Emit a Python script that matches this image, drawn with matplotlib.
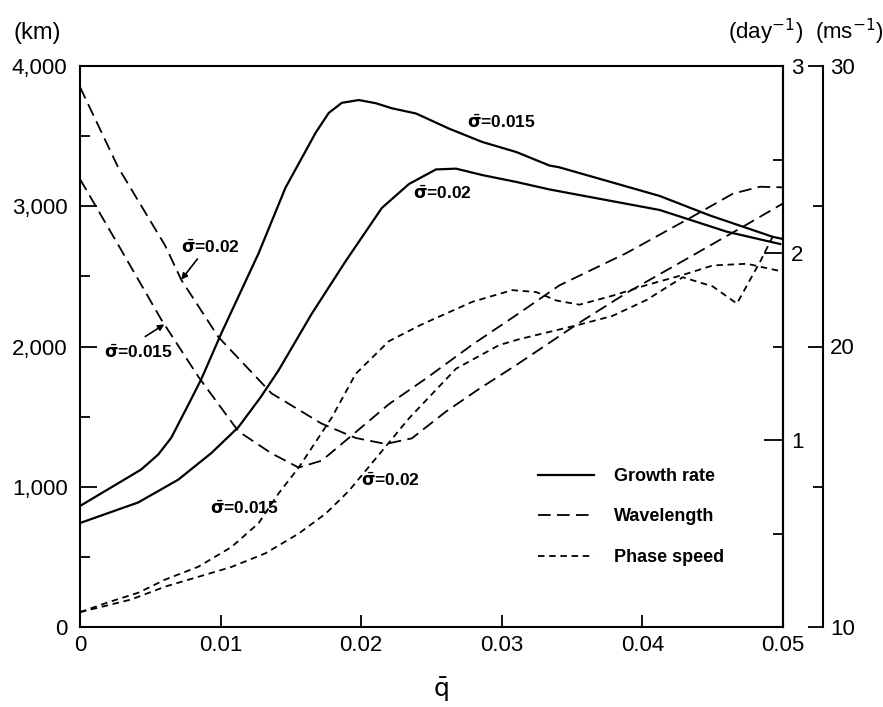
import numpy as np
import matplotlib
matplotlib.use("agg")
import matplotlib.pyplot as plt
from matplotlib.ticker import FixedLocator, FuncFormatter, MultipleLocator

plt.rcParams["font.family"] = ["Liberation Sans", "DejaVu Sans"]
plt.rcParams["mathtext.fontset"] = "dejavusans"

# Growth rate (day^-1) against mean q
growth_q_015 = [0, 0.00435, 0.00556, 0.00649, 0.00785, 0.00863, 0.01006, 0.0127,
                0.01462, 0.01676, 0.01769, 0.01862, 0.01983, 0.02104, 0.02218,
                0.0239, 0.02625, 0.0286, 0.03103, 0.03338, 0.0341, 0.04123,
                0.04479, 0.04929, 0.05]
growth_015 = [0.647, 0.842, 0.922, 1.012, 1.21, 1.326, 1.572, 1.998, 2.35,
              2.643, 2.749, 2.803, 2.818, 2.801, 2.774, 2.746, 2.665, 2.594,
              2.54, 2.468, 2.458, 2.305, 2.201, 2.086, 2.075]

growth_q_02 = [0, 0.00414, 0.00699, 0.00934, 0.01127, 0.01284, 0.01412, 0.01648,
               0.0189, 0.02147, 0.0234, 0.02532, 0.02675, 0.0286, 0.03103,
               0.03338, 0.04123, 0.046, 0.0498]
growth_02 = [0.556, 0.666, 0.788, 0.93, 1.069, 1.228, 1.372, 1.675, 1.957,
             2.241, 2.369, 2.447, 2.451, 2.417, 2.38, 2.34, 2.23, 2.114, 2.048]

# Wavelength (km)
wave_q_015 = [0, 0.00292, 0.00578, 0.00842, 0.01127, 0.01362, 0.01555, 0.01719,
              0.01912, 0.02197, 0.02461, 0.02789, 0.03103, 0.0341, 0.03888,
              0.04359, 0.04644, 0.04836, 0.05]
wave_015 = [3194, 2690, 2192, 1784, 1395, 1238, 1137, 1186, 1348, 1589, 1772,
            2012, 2224, 2436, 2667, 2928, 3090, 3139, 3135]

wave_q_02 = [0, 0.00271, 0.00606, 0.0072, 0.00984, 0.01362, 0.01719, 0.0196,
             0.02175, 0.0236, 0.02603, 0.02839, 0.03103, 0.03552, 0.03888,
             0.04359, 0.04715, 0.05]
wave_02 = [3850, 3278, 2719, 2476, 2068, 1666, 1450, 1348, 1305, 1345, 1536,
           1698, 1868, 2170, 2382, 2650, 2854, 3020]

# Phase speed (m s^-1)
phase_q_015 = [0, 0.002, 0.00414, 0.00606, 0.00842, 0.01077, 0.0127, 0.01412,
               0.01555, 0.0179, 0.0196, 0.02197, 0.02432, 0.02789, 0.03074,
               0.03245, 0.03388, 0.03552, 0.03787, 0.0403, 0.04287, 0.04501,
               0.04743, 0.04979]
phase_015 = [10.53, 10.88, 11.22, 11.69, 12.15, 12.85, 13.7, 14.76, 15.68,
             17.46, 19.02, 20.19, 20.79, 21.59, 22.01, 21.94, 21.64, 21.49,
             21.81, 22.19, 22.55, 22.89, 22.95, 22.69]

phase_q_02 = [0, 0.00364, 0.00606, 0.00842, 0.01077, 0.0132, 0.01555, 0.01747,
              0.01912, 0.02147, 0.0234, 0.02675, 0.02981, 0.03124, 0.03552,
              0.03787, 0.0403, 0.04287, 0.04501, 0.04672, 0.0484, 0.04943]
phase_02 = [10.53, 10.98, 11.44, 11.79, 12.14, 12.63, 13.33, 14.04, 14.85,
            16.27, 17.44, 19.21, 20.05, 20.26, 20.78, 21.09, 21.66, 22.47,
            22.14, 21.53, 23.05, 24.08]

legend_labels = ["Growth rate", "Wavelength", "Phase speed"]

W, H = 883, 707


def fig_xy(px, py):
    return px / W, 1 - py / H


fig = plt.figure(figsize=(W / 100, H / 100), dpi=100)
ax = fig.add_axes([80 / W, 1 - 627 / H, 703 / W, 561 / H])
ax_day = ax.twinx()
ax_ms = ax.twinx()

lw_axis = 1.5
tick_font = 16

# left axis: wavelength in km
ax.set_xlim(0, 0.05)
ax.set_ylim(0, 4000)
for s in ax.spines.values():
    s.set_linewidth(lw_axis)
ax.xaxis.set_major_locator(MultipleLocator(0.01))
ax.xaxis.set_major_formatter(FuncFormatter(lambda v, _: "0" if abs(v) < 1e-9 else "%g" % v))
ax.yaxis.set_major_locator(MultipleLocator(1000))
ax.yaxis.set_minor_locator(MultipleLocator(500))
ax.yaxis.set_major_formatter(FuncFormatter(lambda v, _: "{:,}".format(int(round(v)))))
ax.tick_params(axis="x", direction="in", length=9, width=1.3, labelsize=tick_font,
               pad=6, top=False)
ax.tick_params(axis="y", which="major", direction="in", length=12, width=1.3,
               labelsize=tick_font, pad=9, right=False)
ax.tick_params(axis="y", which="minor", direction="in", length=7, width=1.3,
               right=False)

# right axis: growth rate per day
ax_day.set_ylim(0, 3)
for name, s in ax_day.spines.items():
    s.set_visible(name == "right")
    s.set_linewidth(lw_axis)
ax_day.yaxis.set_major_locator(FixedLocator([1, 2, 3]))
ax_day.yaxis.set_minor_locator(FixedLocator([0.5, 1.5, 2.5]))
ax_day.tick_params(axis="y", which="major", direction="in", length=14, width=1.3,
                   labelsize=tick_font, pad=6)
ax_day.tick_params(axis="y", which="minor", direction="in", length=7, width=1.3)

# outer axis: phase speed
ax_ms.set_ylim(10, 30)
for name, s in ax_ms.spines.items():
    s.set_visible(name == "right")
    s.set_linewidth(lw_axis)
ax_ms.spines["right"].set_position(("outward", 29))
ax_ms.yaxis.set_major_locator(FixedLocator([10, 20, 30]))
ax_ms.yaxis.set_minor_locator(FixedLocator([15, 25]))
ax_ms.tick_params(axis="y", which="major", direction="in", length=11, width=1.3,
                  labelsize=tick_font, pad=5)
ax_ms.tick_params(axis="y", which="minor", direction="in", length=7, width=1.3)

long_dash = (0, (7, 3.5))
short_dash = (0, (3.6, 2.6))

h_growth, = ax_day.plot(growth_q_015, growth_015, color="k", lw=1.6)
ax_day.plot(growth_q_02, growth_02, color="k", lw=1.6)
h_wave, = ax.plot(wave_q_015, wave_015, color="k", lw=1.3, linestyle=long_dash)
ax.plot(wave_q_02, wave_02, color="k", lw=1.3, linestyle=long_dash)
h_phase, = ax_ms.plot(phase_q_015, phase_015, color="k", lw=1.3, linestyle=short_dash)
ax_ms.plot(phase_q_02, phase_02, color="k", lw=1.3, linestyle=short_dash)

leg = ax_ms.legend([h_growth, h_wave, h_phase], legend_labels, loc="upper left",
                   bbox_to_anchor=fig_xy(538, 468), bbox_transform=fig.transFigure,
                   frameon=False, borderpad=0, borderaxespad=0, handlelength=3.1,
                   handletextpad=1.1, labelspacing=1.3,
                   prop={"family": "Liberation Sans", "weight": "bold", "size": 13})

# curve labels, placed in km coordinates
lab_kw = dict(fontsize=12.5, fontweight="bold", ha="center", va="center")
s015 = r"$\bar{\mathbf{\sigma}}$=0.015"
s02 = r"$\bar{\mathbf{\sigma}}$=0.02"
ax.text(0.0300, 3600, s015, **lab_kw)
ax.text(0.0258, 3094, s02, **lab_kw)
ax.text(0.00925, 2709, s02, **lab_kw)
ax.text(0.00413, 1961, s015, **lab_kw)
ax.text(0.01166, 848, s015, **lab_kw)
ax.text(0.02205, 1048, s02, **lab_kw)

arrow_kw = dict(arrowstyle="-|>", color="k", lw=1.2, mutation_scale=9,
                shrinkA=0, shrinkB=0)
tip_q = 0.0072
ax.annotate("", xy=(tip_q, np.interp(tip_q, wave_q_02, wave_02)),
            xytext=(0.00835, 2624), arrowprops=arrow_kw)
tip_q = 0.0060
ax.annotate("", xy=(tip_q, np.interp(tip_q, wave_q_015, wave_015)),
            xytext=(0.00464, 2071), arrowprops=arrow_kw)

# unit headers and x label
fig.text(*fig_xy(37, 33), "(km)", fontsize=17, ha="center", va="center")
fig.text(*fig_xy(766, 32), r"(day$^{-1}$)", fontsize=16, ha="center", va="center")
fig.text(*fig_xy(849, 32), r"(ms$^{-1}$)", fontsize=16, ha="center", va="center")
fig.text(*fig_xy(441, 690), r"$\bar{\mathrm{q}}$", fontsize=18, ha="center", va="center")

fig.savefig("out.png", dpi=100)
